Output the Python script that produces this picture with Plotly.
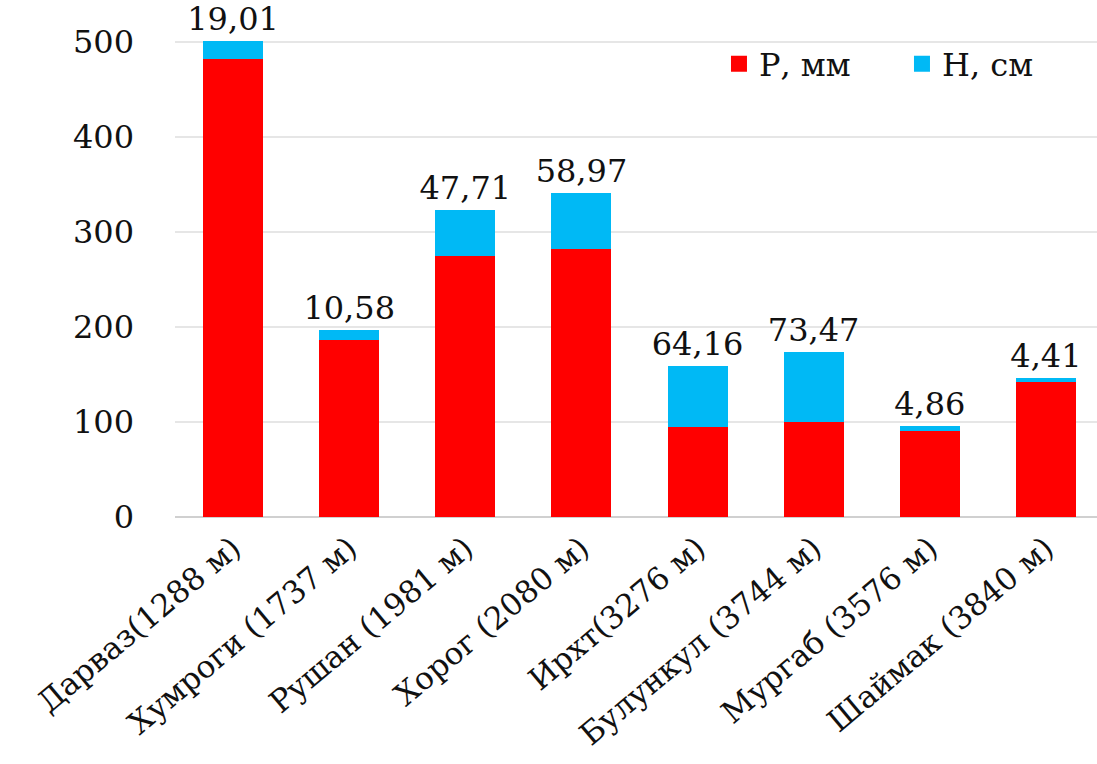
import plotly.graph_objects as go

# Stations with elevation, precipitation (mm) and snow depth (cm)
stations = ["Дарваз(1288 м)", "Хумроги (1737 м)", "Рушан (1981 м)", "Хорог (2080 м)",
            "Ирхт(3276 м)", "Булункул (3744 м)", "Мургаб (3576 м)", "Шаймак (3840 м)"]
precip_mm = [482, 186, 275, 282, 95, 100, 91, 142]
snow_cm = [19.01, 10.58, 47.71, 58.97, 64.16, 73.47, 4.86, 4.41]
y_ticks = [0, 100, 200, 300, 400, 500]
series_names = ["Р, мм", "Н, см"]

FONT = "DejaVu Serif"
RED = "#FF0000"
BLUE = "#00B9F5"

snow_text = [f"{v:.2f}".replace(".", ",") for v in snow_cm]

fig = go.Figure()
fig.add_trace(go.Bar(
    x=stations, y=precip_mm, name=series_names[0], showlegend=False,
    marker=dict(color=RED, line=dict(width=0)),
))
fig.add_trace(go.Bar(
    x=stations, y=snow_cm, name=series_names[1], showlegend=False,
    marker=dict(color=BLUE, line=dict(width=0)),
    text=snow_text, textposition="outside", constraintext="none",
    cliponaxis=False,
    textfont=dict(family=FONT, size=32, color="#111111"),
))

# legend entries with larger square swatches
for name, color in zip(series_names, [RED, BLUE]):
    fig.add_trace(go.Scatter(
        x=[None], y=[None], mode="markers", name=name,
        marker=dict(symbol="square", size=22, color=color),
    ))

fig.update_layout(
    width=1097, height=764,
    margin=dict(l=175, r=0, t=4, b=247),
    barmode="stack", bargap=0.483,
    plot_bgcolor="white", paper_bgcolor="white",
    font=dict(family=FONT, size=32, color="#111111"),
    showlegend=True,
    legend=dict(
        orientation="h", x=0.59, y=0.883, xanchor="left", yanchor="middle",
        font=dict(family=FONT, size=32, color="#111111"),
        bgcolor="rgba(0,0,0,0)", itemsizing="trace",
        entrywidth=138, entrywidthmode="pixels",
        traceorder="normal", tracegroupgap=0,
    ),
    xaxis=dict(
        range=[-0.5, 7.44], tickangle=-40, automargin=False,
        tickfont=dict(family=FONT, size=31, color="#111111"),
        showgrid=False, showline=False, ticks="", ticklabelstandoff=6,
    ),
    yaxis=dict(
        range=[0, 540], tickvals=y_ticks, automargin=False,
        tickfont=dict(family=FONT, size=32, color="#111111"),
        showgrid=True, gridcolor="#E6E6E6", gridwidth=1.5,
        zeroline=True, zerolinecolor="#D0D0D0", zerolinewidth=1.5,
        showline=False, ticks="", ticklabelstandoff=40,
    ),
)

fig.write_html("out.html")
